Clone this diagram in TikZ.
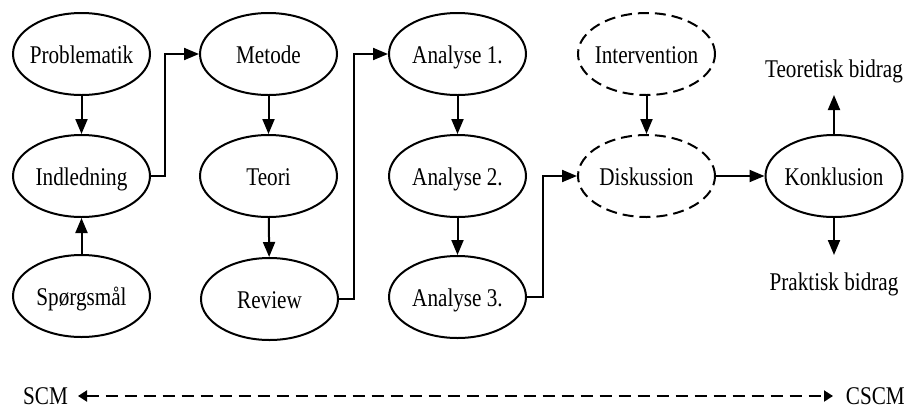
\documentclass[tikz,border=0pt]{standalone}
\usepackage{fontspec}
\setmainfont{Liberation Serif}[FakeStretch=0.83]
\usetikzlibrary{shapes.geometric,arrows.meta}
\newcommand{\zb}[1]{\makebox[0pt]{#1}}
\begin{document}
\begin{tikzpicture}[x=1pt,y=-1pt,
  every node/.style={font=\fontsize{25.5}{30}\selectfont},
  oval/.style={ellipse,draw,line width=2pt,minimum width=137pt,minimum height=82pt,
    inner sep=0pt,text height=18pt,text depth=0pt},
  dashoval/.style={oval,dash pattern=on 11pt off 6pt},
  conn/.style={line width=2pt,-{Triangle[length=15pt,width=12pt]}},
  dconn/.style={line width=2pt,dash pattern=on 12pt off 7pt,
    {Triangle[length=9pt,width=11pt]}-{Triangle[length=9pt,width=11pt]}},
  lab/.style={inner sep=0pt,text height=18pt,text depth=0pt}]
\useasboundingbox (0,0) rectangle (908,408);
% column 1
\node[oval] (prob) at (81.5,54) {\zb{Problematik}};
\node[oval] (ind) at (81.5,176) {\zb{Indledning}};
\node[oval] (sp) at (81.5,296) {\zb{Spørgsmål}};
% column 2
\node[oval] (met) at (268.5,54) {\zb{Metode}};
\node[oval] (teo) at (268.5,176) {\zb{Teori}};
\node[oval] (rev) at (269.5,299) {\zb{Review}};
% column 3
\node[oval] (a1) at (457.5,54) {\zb{Analyse 1.}};
\node[oval] (a2) at (457.5,176) {\zb{Analyse 2.}};
\node[oval] (a3) at (457.5,297) {\zb{Analyse 3.}};
% column 4
\node[dashoval] (int) at (646.5,54) {\zb{Intervention}};
\node[dashoval] (disk) at (646.5,176) {\zb{Diskussion}};
% column 5
\node[oval] (konk) at (834,176) {\zb{Konklusion}};
\node[lab] (tb) at (834,68) {Teoretisk bidrag};
\node[lab] (pb) at (834,281) {Praktisk bidrag};
\coordinate (tbtip) at (834,95);
\coordinate (pbtip) at (834,255);
% bottom
\node[lab,anchor=base west] (scm) at (23,404) {SCM};
\node[lab,anchor=base east] (cscm) at (905,404) {CSCM};
\coordinate (ltip) at (78,396);
\coordinate (rtip) at (833,396);
% connectors
\draw[conn] (prob) -- (ind);
\draw[conn] (sp) -- (ind);
\draw[conn] (ind.east) -- (165,176) |- (met.west);
\draw[conn] (met) -- (teo);
\draw[conn] (teo) -- (rev);
\draw[conn] (rev.east) -- (354,299) |- (a1.west);
\draw[conn] (a1) -- (a2);
\draw[conn] (a2) -- (a3);
\draw[conn] (a3.east) -- (543,297) |- (disk.west);
\draw[conn] (int) -- (disk);
\draw[conn] (disk.east) -- (konk.west);
\draw[conn] (konk.north) -- (tbtip);
\draw[conn] (konk.south) -- (pbtip);
\draw[dconn] (ltip) -- (rtip);
\end{tikzpicture}
\end{document}
